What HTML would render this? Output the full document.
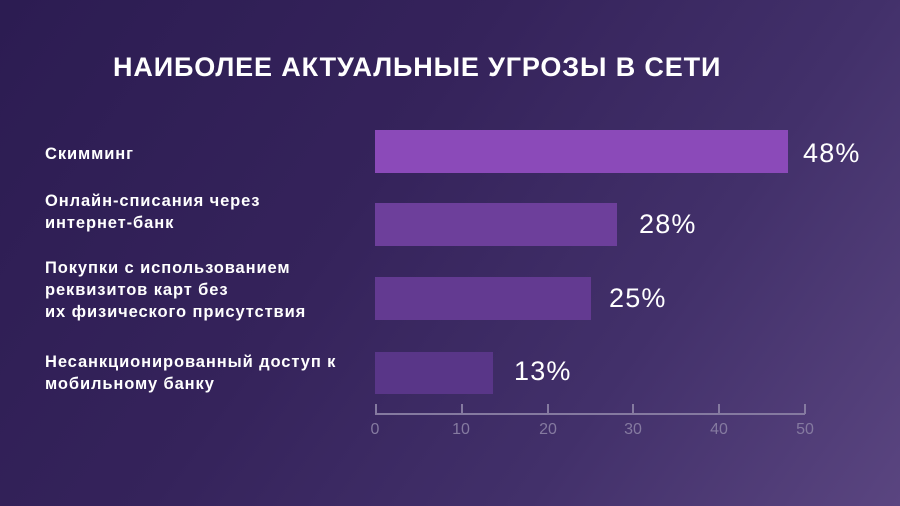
<!DOCTYPE html>
<html><head><meta charset="utf-8"><style>
html,body{margin:0;padding:0}
body{width:900px;height:506px;overflow:hidden;position:relative;font-family:"Liberation Sans","DejaVu Sans",sans-serif;
background:linear-gradient(125deg,#2c1c52 0%,#35235b 40%,#42306a 70%,#5a4580 100%);}
.t{position:absolute;left:113px;top:52px;color:#fff;font-weight:bold;font-size:27px;letter-spacing:0.85px;white-space:nowrap}
.l{position:absolute;left:45px;color:#fff;font-weight:bold;font-size:16.5px;letter-spacing:0.9px;line-height:22px;white-space:nowrap}
.b{position:absolute;left:375px}
.v{position:absolute;color:#fff;font-size:27px;letter-spacing:1.2px;white-space:nowrap}
.k{position:absolute;top:421px;color:#857aa0;font-size:16px;width:40px;margin-left:-20px;text-align:center}
.tk{position:absolute;top:404px;width:1.5px;height:10px;background:#857aa0}
</style></head><body>
<div class="t">НАИБОЛЕЕ АКТУАЛЬНЫЕ УГРОЗЫ В СЕТИ</div>
<div class="l" style="top:143px">Скимминг</div>
<div class="l" style="top:190px">Онлайн-списания через<br>интернет-банк</div>
<div class="l" style="top:257px">Покупки с использованием<br>реквизитов карт без<br>их физического присутствия</div>
<div class="l" style="top:351px">Несанкционированный доступ к<br>мобильному банку</div>
<div class="b" style="top:130px;height:43px;width:413px;background:#8b4ab9"></div>
<div class="b" style="top:203px;height:43px;width:242px;background:#6d3f9b"></div>
<div class="b" style="top:277px;height:43px;width:216px;background:#633a91"></div>
<div class="b" style="top:352px;height:42px;width:118px;background:#593688"></div>
<div class="v" style="left:803px;top:138px">48%</div>
<div class="v" style="left:639px;top:209px">28%</div>
<div class="v" style="left:609px;top:283px">25%</div>
<div class="v" style="left:514px;top:356px">13%</div>
<div style="position:absolute;left:375px;top:413px;width:430px;height:1.5px;background:#857aa0"></div>
<div class="tk" style="left:375px"></div><div class="tk" style="left:461px"></div><div class="tk" style="left:547px"></div>
<div class="tk" style="left:632px"></div><div class="tk" style="left:718px"></div><div class="tk" style="left:804px"></div>
<div class="k" style="left:375px">0</div><div class="k" style="left:461px">10</div><div class="k" style="left:548px">20</div>
<div class="k" style="left:633px">30</div><div class="k" style="left:719px">40</div><div class="k" style="left:805px">50</div>
</body></html>
